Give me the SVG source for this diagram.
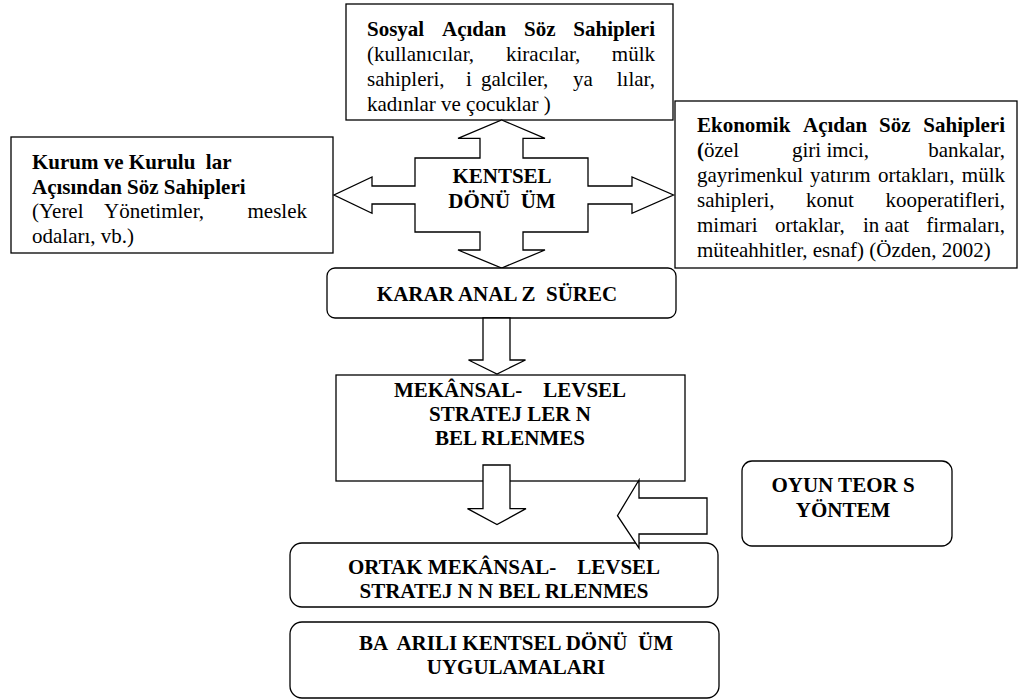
<svg xmlns="http://www.w3.org/2000/svg" width="1021" height="700" viewBox="0 0 1021 700" xml:space="preserve">
<style>
  text { font-family: "Liberation Serif", "Times New Roman", Tinos, serif; font-size: 21px; fill: #000; white-space: pre; }
  .b { font-weight: bold; }
  .c { text-anchor: middle; }
  .e { text-anchor: end; }
  .box { fill: #fff; stroke: #000; stroke-width: 1.3; }
  .arr { fill: #fff; stroke: #000; stroke-width: 1.3; stroke-linejoin: miter; }
</style>
<rect width="1021" height="700" fill="#fff"/>
<g id="node-sosyal">
  <rect class="box" x="346" y="4" width="327" height="116"/>
  <text class="b" y="36"><tspan x="367">Sosyal</tspan><tspan x="442">Açıdan</tspan><tspan x="524">Söz</tspan><tspan x="655" class="e">Sahipleri</tspan></text>
  <text y="61"><tspan x="367">(kullanıcılar,</tspan><tspan x="506">kiracılar,</tspan><tspan x="655" class="e">mülk</tspan></text>
  <text y="86"><tspan x="367">sahipleri,</tspan><tspan x="466">i</tspan><tspan x="481">galciler,</tspan><tspan x="573">ya</tspan><tspan x="655" class="e">lılar,</tspan></text>
  <text x="367" y="111">kadınlar ve çocuklar )</text>
</g>

<g id="node-kurum">
  <rect class="box" x="11" y="137" width="322" height="116"/>
  <text class="b" x="32" y="169">Kurum ve Kurulu  lar</text>
  <text class="b" x="32" y="193.5">Açısından Söz Sahipleri</text>
  <text y="218"><tspan x="32">(Yerel</tspan><tspan x="104">Yönetimler,</tspan><tspan x="307" class="e">meslek</tspan></text>
  <text x="32" y="243">odaları, vb.)</text>
</g>

<g id="node-ekonomik">
  <rect class="box" x="675" y="101" width="342" height="167"/>
  <text class="b" y="132"><tspan x="697">Ekonomik</tspan><tspan x="803">Açıdan</tspan><tspan x="879">Söz</tspan><tspan x="1005" class="e">Sahipleri</tspan></text>
  <text y="157"><tspan x="697" class="b">(</tspan><tspan>özel</tspan><tspan x="792">giri imci,</tspan><tspan x="1005" class="e">bankalar,</tspan></text>
  <text y="182"><tspan x="697">gayrimenkul</tspan><tspan x="810">yatırım</tspan><tspan x="878">ortakları,</tspan><tspan x="1005" class="e">mülk</tspan></text>
  <text y="207"><tspan x="697">sahipleri,</tspan><tspan x="806">konut</tspan><tspan x="1005" class="e">kooperatifleri,</tspan></text>
  <text y="232"><tspan x="697">mimari</tspan><tspan x="775">ortaklar,</tspan><tspan x="863">in aat</tspan><tspan x="1005" class="e">firmaları,</tspan></text>
  <text x="697" y="257">müteahhitler, esnaf) (Özden, 2002)</text>
</g>

<g id="node-kentsel">
  <path class="arr" d="M501.7,120 L545,138.3 L523,138.3 L523,158 L588,158 L588,186 L632,186 L632,177 L673.5,195 L632,213.3 L632,204 L588,204 L588,232 L523,232 L523,250 L545,250 L501.7,268 L458,250 L480,250 L480,232 L415,232 L415,204 L372,204 L372,213.3 L334,195 L372,177 L372,186 L415,186 L415,158 L480,158 L480,138.3 L458,138.3 Z"/>
  <text class="b c" x="502" y="183">KENTSEL</text>
  <text class="b c" x="502" y="208">DÖNÜ  ÜM</text>
</g>

<g id="node-karar">
  <rect class="box" x="327" y="268" width="349" height="50" rx="8"/>
  <text class="b c" x="497" y="301">KARAR ANAL Z  SÜREC</text>
</g>

<g id="node-mekansal">
  <rect class="box" x="336" y="375" width="349" height="106"/>
  <text class="b c" x="510" y="397">MEKÂNSAL-    LEVSEL</text>
  <text class="b c" x="510" y="421">STRATEJ LER N</text>
  <text class="b c" x="510" y="445">BEL RLENMES</text>
</g>

<g id="node-oyun">
  <rect class="box" x="742" y="461" width="210" height="85" rx="10"/>
  <text class="b c" x="843" y="492">OYUN TEOR S</text>
  <text class="b c" x="843" y="517">YÖNTEM</text>
</g>

<g id="node-ortak">
  <rect class="box" x="290" y="543" width="428" height="64" rx="12"/>
  <text class="b c" x="504" y="574">ORTAK MEKÂNSAL-    LEVSEL</text>
  <text class="b c" x="504" y="598">STRATEJ N N BEL RLENMES</text>
</g>

<g id="node-basarili">
  <rect class="box" x="290" y="622" width="429" height="76" rx="12"/>
  <text class="b c" x="516" y="650">BA  ARILI KENTSEL DÖNÜ  ÜM</text>
  <text class="b c" x="516" y="674">UYGULAMALARI</text>
</g>

<g id="connectors">
  <path class="arr" d="M483,318 L510,318 L510,360 L525.5,360 L497,374 L468.5,360 L483,360 Z"/>
  <path class="arr" d="M483,465 L510,465 L510,508.6 L526,508.6 L497,524.6 L467.5,508.6 L483,508.6 Z"/>
  <path class="arr" d="M707,498 L707,534 L639,534 L639,548 L617.5,515.7 L639,480 L639,498 Z"/>
</g>
</svg>
